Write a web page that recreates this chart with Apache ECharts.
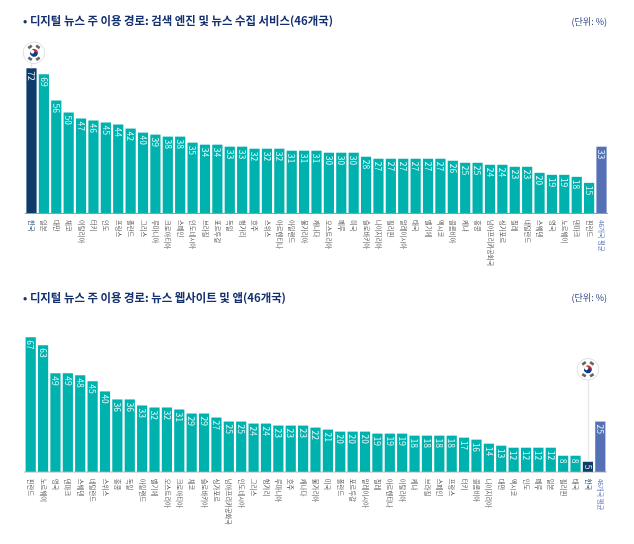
<!DOCTYPE html>
<html><head><meta charset="utf-8">
<style>html,body{margin:0;padding:0;background:#fff}#c{width:634px;height:544px}</style>
<script src="https://cdn.jsdelivr.net/npm/echarts@6/dist/echarts.min.js"></script>
</head><body><div id="c"></div>
<script>
const categoriesSearch = ['한국','일본','대만','체코','이탈리아','터키','인도','프랑스','폴란드','그리스','루마니아','크로아티아','스페인','인도네시아','브라질','포르투갈','독일','헝가리','호주','스위스','아르헨티나','아일랜드','불가리아','캐나다','오스트리아','페루','미국','슬로바키아','나이지리아','필리핀','말레이시아','태국','벨기에','멕시코','콜롬비아','케냐','홍콩','남아프리카공화국','싱가포르','칠레','네덜란드','스웨덴','영국','노르웨이','덴마크','핀란드','46개국 평균'];
const valuesSearch = [72,69,56,50,47,46,45,44,42,40,39,38,38,35,34,34,33,33,32,32,32,31,31,31,30,30,30,28,27,27,27,27,27,27,26,25,25,24,24,23,23,20,19,19,18,15,33];
const categoriesWeb = ['핀란드','노르웨이','영국','덴마크','스웨덴','네덜란드','스위스','홍콩','독일','아일랜드','벨기에','오스트리아','크로아티아','체코','슬로바키아','싱가포르','남아프리카공화국','인도네시아','그리스','헝가리','루마니아','호주','캐나다','불가리아','미국','폴란드','포르투갈','말레이시아','칠레','아르헨티나','이탈리아','케냐','브라질','스페인','프랑스','터키','콜롬비아','나이지리아','대만','멕시코','인도','페루','일본','필리핀','태국','한국','46개국 평균'];
const valuesWeb = [67,63,49,49,48,45,40,36,36,33,32,32,31,29,29,27,25,25,24,24,23,23,23,22,21,20,20,20,19,19,19,18,18,18,18,17,16,14,13,12,12,12,12,8,8,5,25];
const titleSearch = '• 디지털 뉴스 주 이용 경로: 검색 엔진 및 뉴스 수집 서비스(46개국)';
const titleWeb = '• 디지털 뉴스 주 이용 경로: 뉴스 웹사이트 및 앱(46개국)';
const unitText = '(단위: %)';
const KOREA = '한국', AVG = '46개국 평균';
const TEAL = '#00b2ae', NAVY = '#0e3b6a', BLUE = '#5670b5';
const FONT = '"Noto Sans CJK KR","Noto Sans",sans-serif';

const flagSvg = `<svg xmlns="http://www.w3.org/2000/svg" viewBox="-12 -12 24 24">
<circle r="11.3" fill="#fff" stroke="#dedede" stroke-width="1"/>
<g transform="rotate(33.7)"><path d="M-4 0A4 4 0 0 1 4 0A2 2 0 0 1 0 0A2 2 0 0 0 -4 0Z" fill="#cd2e3a"/>
<path d="M-4 0A2 2 0 0 0 0 0A2 2 0 0 1 4 0A4 4 0 0 1 -4 0Z" fill="#0f3d8c"/></g>
<g fill="#666"><rect x="-2.2" y="-1.4" width="4.4" height="2.8" transform="rotate(-56.3) translate(-7.4 0) rotate(90)"/>
<rect x="-2.2" y="-1.4" width="4.4" height="2.8" transform="rotate(56.3) translate(-7.4 0) rotate(90)"/>
<rect x="-2.2" y="-1.4" width="4.4" height="2.8" transform="rotate(56.3) translate(7.4 0) rotate(90)"/>
<rect x="-2.2" y="-1.4" width="4.4" height="2.8" transform="rotate(-56.3) translate(7.4 0) rotate(90)"/></g></svg>`;
const flagImage = 'image://data:image/svg+xml;charset=utf-8,' + encodeURIComponent(flagSvg);

function makeSeries(idx, cats, vals, pinValue, pinShift) {
  return {
    type: 'bar', xAxisIndex: idx, yAxisIndex: idx, barWidth: 10.2, silent: true,
    data: vals.map((v, i) => ({
      value: v,
      itemStyle: { color: cats[i] === KOREA ? NAVY : cats[i] === AVG ? BLUE : TEAL }
    })),
    label: { show: true, position: 'insideTop', distance: 3, rotate: -90, align: 'left', verticalAlign: 'middle',
             color: '#e3f8f7', fontSize: 8.5, fontFamily: FONT },
    markLine: { silent: true, symbol: 'none', label: { show: false }, animation: false,
      lineStyle: { color: '#e8e8ea', width: 1.4, type: 'solid' },
      data: [[{ coord: [KOREA, vals[cats.indexOf(KOREA)]] }, { coord: [KOREA, pinValue] }]] },
    markPoint: { silent: true, animation: false, symbol: flagImage, symbolSize: 23, symbolOffset: [pinShift, 0], label: { show: false },
      data: [{ coord: [KOREA, pinValue] }] },
    z: 3
  };
}
function makeX(idx, cats, lineColor, lineWidth) {
  return {
    type: 'category', gridIndex: idx, data: cats,
    axisTick: { show: false },
    axisLine: { lineStyle: { color: lineColor, width: lineWidth } },
    axisLabel: { interval: 0, rotate: -90, margin: 7, fontSize: 6.3, fontFamily: FONT,
      color: v => v === KOREA ? NAVY : v === AVG ? BLUE : '#555' }
  };
}
function makeY(idx) {
  return { type: 'value', gridIndex: idx, min: 0, max: 80, show: false, splitLine: { show: false } };
}
const chart = echarts.init(document.getElementById('c'), null, { renderer: 'canvas' });
chart.setOption({
  animation: false,
  backgroundColor: '#fff',
  title: [
    { text: titleSearch, left: 18, top: 10, textStyle: { color: '#14306e', fontSize: 11.4, fontWeight: 'bold', fontFamily: FONT } },
    { text: unitText, right: 22, top: 12, textStyle: { color: '#2f4a85', fontSize: 9, fontWeight: 'normal', fontFamily: FONT } },
    { text: titleWeb, left: 18, top: 287, textStyle: { color: '#14306e', fontSize: 11.4, fontWeight: 'bold', fontFamily: FONT } },
    { text: unitText, right: 22, top: 288, textStyle: { color: '#2f4a85', fontSize: 9, fontWeight: 'normal', fontFamily: FONT } }
  ],
  grid: [
    { left: 25.3, width: 582.4, top: 52.2, height: 160.8 },
    { left: 24.5, width: 582, top: 311, height: 160.8 }
  ],
  xAxis: [ makeX(0, categoriesSearch, '#9a9a9a', 1), makeX(1, categoriesWeb, '#cfcfcf', 1.6) ],
  yAxis: [ makeY(0), makeY(1) ],
  series: [
    makeSeries(0, categoriesSearch, valuesSearch, 79.7, 2.5),
    makeSeries(1, categoriesWeb, valuesWeb, 51, 0)
  ]
});
</script></body></html>
